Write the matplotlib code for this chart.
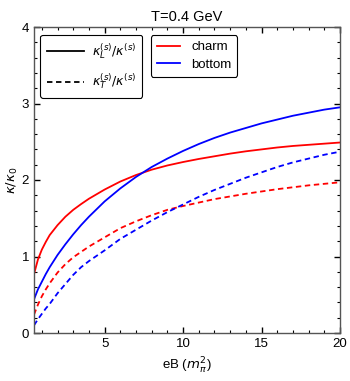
import numpy as np
import matplotlib.pyplot as plt
from matplotlib.lines import Line2D

# values
eB = [0.5, 0.75, 1, 1.25, 1.5, 2, 2.5, 3, 3.5, 4, 5, 6, 7, 8, 9, 10, 11, 12,
      13, 14, 15, 16, 17, 18, 19, 20]
charm_L = [0.77, 0.96, 1.09, 1.19, 1.28, 1.41, 1.52, 1.61, 1.685, 1.755, 1.875, 1.98, 2.065, 2.135,
           2.19, 2.235, 2.275, 2.31, 2.345, 2.375, 2.40, 2.425, 2.445, 2.46, 2.475, 2.49]
bottom_L = [0.44, 0.57, 0.67, 0.77, 0.86, 1.02, 1.16, 1.29, 1.41, 1.52, 1.72, 1.89, 2.04, 2.17,
            2.28, 2.38, 2.47, 2.55, 2.62, 2.68, 2.74, 2.79, 2.84, 2.88, 2.92, 2.95]
charm_T = [0.24, 0.37, 0.48, 0.57, 0.65, 0.79, 0.90, 0.99, 1.06, 1.13, 1.25, 1.37, 1.46, 1.54,
           1.61, 1.66, 1.705, 1.75, 1.785, 1.82, 1.85, 1.88, 1.905, 1.93, 1.95, 1.97]
bottom_T = [0.10, 0.18, 0.25, 0.32, 0.38, 0.52, 0.64, 0.76, 0.86, 0.94, 1.08, 1.23, 1.35, 1.47,
            1.58, 1.68, 1.78, 1.87, 1.95, 2.03, 2.10, 2.17, 2.23, 2.28, 2.33, 2.37]

plt.rcParams['font.family'] = ['Liberation Sans', 'DejaVu Sans']
plt.rcParams['mathtext.fontset'] = 'dejavusans'

fig = plt.figure(figsize=(3.5, 3.81), dpi=100)
ax = fig.add_axes([34/350, 1 - 333/381, 306/350, 306/381])

dash = (0, (3, 2))
ax.plot(eB, charm_L, color='red', lw=1.3)
ax.plot(eB, bottom_L, color='blue', lw=1.3)
ax.plot(eB, charm_T, color='red', lw=1.3, linestyle=dash)
ax.plot(eB, bottom_T, color='blue', lw=1.3, linestyle=dash)

ax.set_xlim(0.5, 20)
ax.set_ylim(0, 4)
ax.set_xticks([5, 10, 15, 20])
ax.set_xticks(np.arange(1, 20, 1), minor=True)
ax.set_yticks([0, 1, 2, 3, 4])
ax.set_yticks(np.arange(0, 4.01, 0.2), minor=True)
ax.tick_params(which='both', direction='in', top=True, right=True, labelsize=9.5, color='black')
ax.tick_params(which='major', length=4, width=1)
ax.tick_params(which='minor', length=2, width=0.8)
for s in ax.spines.values():
    s.set_color('#555555')
    s.set_linewidth(1)

ax.set_title('T=0.4 GeV', fontsize=10.5, pad=4)
ax.set_xlabel(r'eB ($m_\pi^2$)', fontsize=9.5)
ax.set_ylabel(r'$\kappa/\kappa_0$', fontsize=9.5, labelpad=1)

h1 = [Line2D([], [], color='black', lw=1.3),
      Line2D([], [], color='black', lw=1.3, linestyle=dash)]
leg1 = ax.legend(h1, [r'$\kappa_L^{(s)}/\kappa^{(s)}$', r'$\kappa_T^{(s)}/\kappa^{(s)}$'],
                 loc='upper left', bbox_to_anchor=(0.0, 0.995), fontsize=9,
                 fancybox=True, edgecolor='black', framealpha=1, handlelength=3.0,
                 labelspacing=0.9, borderpad=0.5, handletextpad=0.6)
leg1.get_frame().set_linewidth(0.8)
ax.add_artist(leg1)

h2 = [Line2D([], [], color='red', lw=1.3), Line2D([], [], color='blue', lw=1.3)]
leg2 = ax.legend(h2, ['charm', 'bottom'], loc='upper left', bbox_to_anchor=(0.36, 0.995),
                 fontsize=9.5, fancybox=True, edgecolor='black', framealpha=1,
                 handlelength=1.8, labelspacing=0.4, borderpad=0.45)
leg2.get_frame().set_linewidth(0.8)

fig.savefig('out.png', dpi=100)
